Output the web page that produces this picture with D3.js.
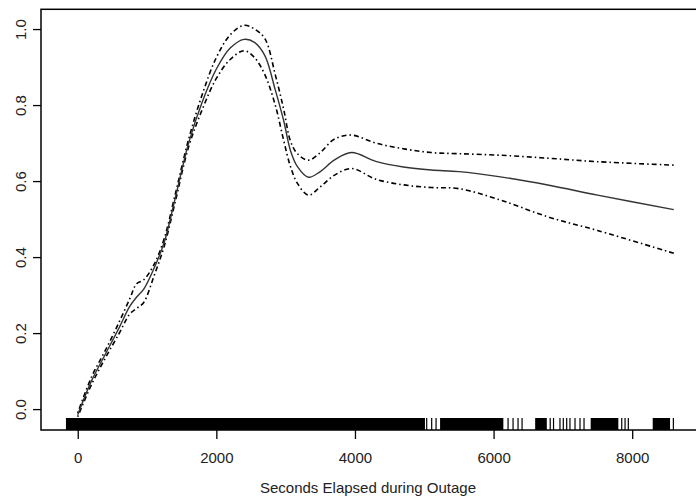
<!DOCTYPE html>
<html>
<head>
<meta charset="utf-8">
<script src="https://cdn.jsdelivr.net/npm/d3@7"></script>
<style>
	body { margin: 0; background: #fff; }
	text { font-family: "Liberation Sans", Arial, sans-serif; fill: #222; }
</style>
</head>
<body>
<div class="left"></div>
<script>
// seconds elapsed, fitted curve and its upper / lower bands
var secs  = [0, 200, 400, 600, 750, 850, 950, 1100, 1250, 1400, 1600, 1800, 2000, 2200, 2400, 2550, 2700, 2850, 2970, 3070, 3170, 3330, 3500, 3700, 3950, 4300, 4700, 5100, 5500, 6100, 6800, 7500, 8600];
var fit   = [-0.015, 0.075, 0.145, 0.215, 0.27, 0.295, 0.315, 0.37, 0.44, 0.55, 0.70, 0.81, 0.895, 0.95, 0.973, 0.965, 0.93, 0.84, 0.76, 0.68, 0.638, 0.61, 0.625, 0.655, 0.675, 0.652, 0.637, 0.629, 0.625, 0.611, 0.589, 0.563, 0.525];
var upper = [-0.01, 0.085, 0.155, 0.23, 0.29, 0.33, 0.34, 0.38, 0.45, 0.56, 0.71, 0.83, 0.925, 0.985, 1.01, 1.0, 0.975, 0.88, 0.79, 0.705, 0.672, 0.655, 0.675, 0.71, 0.721, 0.70, 0.685, 0.675, 0.672, 0.668, 0.66, 0.651, 0.642];
var lower = [-0.02, 0.065, 0.135, 0.20, 0.25, 0.265, 0.28, 0.35, 0.43, 0.54, 0.69, 0.79, 0.87, 0.92, 0.943, 0.925, 0.88, 0.80, 0.708, 0.638, 0.594, 0.563, 0.585, 0.615, 0.633, 0.605, 0.59, 0.583, 0.58, 0.55, 0.505, 0.47, 0.41];

// rug: dense runs [from, to] and lone observations
var rugRuns  = [[-170, 5010], [5228, 6141], [6600, 6768], [7401, 7800], [8296, 8546]];
var rugTicks = [5035, 5107, 5170, 6209, 6281, 6353, 6411, 6817, 6865, 6958, 7006, 7055, 7102, 7175, 7247, 7305, 7849, 7897, 7944, 8594];

var xTicks = [0, 2000, 4000, 6000, 8000];
var yTicks = [0.0, 0.2, 0.4, 0.6, 0.8, 1.0];
var xTitle = "Seconds Elapsed during Outage";

function makePlot() {
	var width = 696;
	var height = 502;
	var left = 41, right = 697, top = 9.3, bottom = 430;

	var svg = d3.select(".left").append("svg")
		.attr("width", width).attr("height", height);

	var xScale = d3.scaleLinear()
		.domain([-530, 8935]).range([left, right]);
	var yScale = d3.scaleLinear()
		.domain([-0.055, 1.052]).range([bottom, top]);

	// rug
	svg.selectAll("rect.run").data(rugRuns).enter().append("rect")
		.attr("class", "run")
		.attr("x", function(d) { return xScale(d[0]); })
		.attr("width", function(d) { return xScale(d[1]) - xScale(d[0]); })
		.attr("y", bottom - 12).attr("height", 12)
		.attr("fill", "#000");
	svg.selectAll("line.rug").data(rugTicks).enter().append("line")
		.attr("class", "rug")
		.attr("x1", function(d) { return xScale(d); })
		.attr("x2", function(d) { return xScale(d); })
		.attr("y1", bottom - 12).attr("y2", bottom)
		.attr("stroke", "#000").attr("stroke-width", 1.2);

	var line = function(ys) {
		return d3.line()
			.x(function(d, i) { return xScale(secs[i]); })
			.y(function(d) { return yScale(d); })
			.curve(d3.curveCatmullRom.alpha(0.5))(ys);
	};

	[upper, lower].forEach(function(band) {
		svg.append("path").attr("d", line(band))
			.attr("fill", "none").attr("stroke", "#000")
			.attr("stroke-width", 1.6)
			.attr("stroke-dasharray", "1.5,3,5,3");
	});
	svg.append("path").attr("d", line(fit))
		.attr("fill", "none").attr("stroke", "#333")
		.attr("stroke-width", 1.4);

	// frame
	svg.append("rect")
		.attr("x", left).attr("y", top)
		.attr("width", right - left).attr("height", bottom - top)
		.attr("fill", "none").attr("stroke", "#000").attr("stroke-width", 1.5);

	var xAxis = d3.axisBottom(xScale).tickValues(xTicks)
		.tickFormat(d3.format("d")).tickSize(9).tickPadding(13);
	var yAxis = d3.axisLeft(yScale).tickValues(yTicks)
		.tickFormat(d3.format(".1f")).tickSize(8);

	var gx = svg.append("g").attr("transform", "translate(0," + bottom + ")").call(xAxis);
	var gy = svg.append("g").attr("transform", "translate(" + left + ",0)").call(yAxis);
	[gx, gy].forEach(function(g) {
		g.select(".domain").remove();
		g.selectAll(".tick line").attr("stroke", "#000").attr("stroke-width", 1.3);
		g.selectAll(".tick text").attr("font-size", 15)
			.attr("font-family", "Liberation Sans, Arial, sans-serif").attr("fill", "#222");
	});
	gy.selectAll(".tick text")
		.attr("x", null).attr("dy", null)
		.attr("text-anchor", "middle")
		.attr("transform", "translate(-15,0) rotate(-90)");

	svg.append("text")
		.attr("x", (left + right) / 2 - 1).attr("y", 493)
		.attr("text-anchor", "middle").attr("font-size", 15)
		.text(xTitle);
}

makePlot();
</script>
</body>
</html>
